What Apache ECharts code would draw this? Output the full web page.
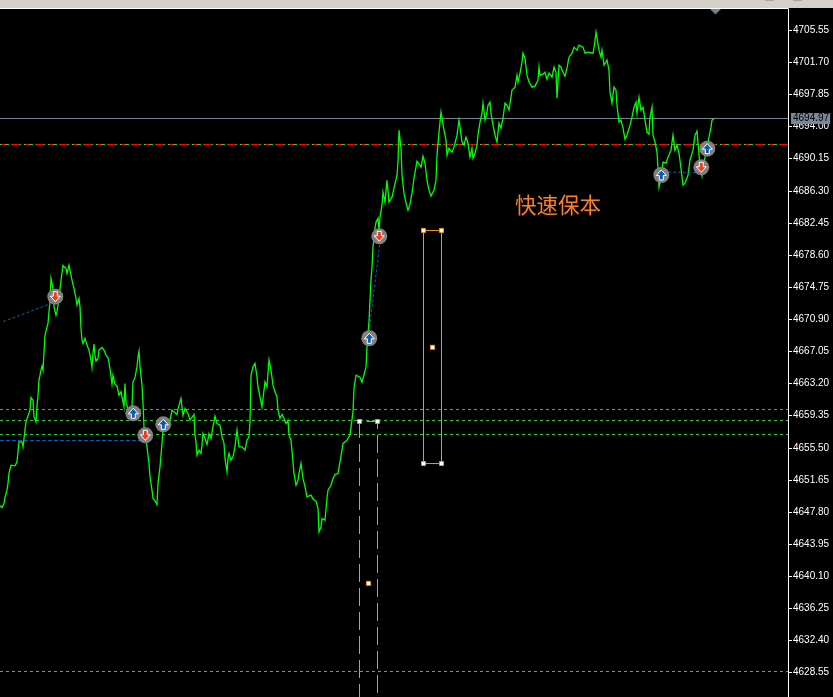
<!DOCTYPE html>
<html>
<head>
<meta charset="utf-8">
<style>html,body{margin:0;padding:0;background:#000;overflow:hidden}#c{width:833px;height:697px}</style>
<script src="https://cdn.jsdelivr.net/npm/echarts@6/dist/echarts.min.js"></script>
</head>
<body>
<div id="c"></div>
<script>
const barIndex = [
0,2,4,5,7,8,9,11,13,15,17,18,19,22,23,25,26,28,30,31,33,34,36,37,38,39,41,42,43,45,47,48,50,51,53,54,56,57,59,61,63,66,67,69,72,74,76,77,79,80,81,82,83,85,87,89,91,92,93,94,95,96,98,99,102,104,106,108,110,112,113,115,117,119,121,123,124,125,126,128,131,132,133,135,137,138,139,140,142,143,144,145,147,149,150,152,153,155,157,158,160,162,163,
167,170,172,174,177,178,181,182,183,185,187,188,190,192,194,195,196,197,199,201,202,203,205,207,209,211,213,215,217,220,222,224,225,227,228,229,231,233,235,237,239,242,245,247,249,250,251,253,255,257,258,260,262,263,265,267,269,271,273,275,277,278,280,282,284,286,288,289,291,293,294,296,298,299,301,302,303,305,307,309,311,313,316,318,319,321,322,325,327,328,331,333,335,338,340,342,343,347,348,350,352,353,354,356,358,
360,362,364,366,367,369,370,371,372,373,375,376,378,379,380,382,383,385,387,389,392,394,397,398,399,401,402,404,406,408,410,412,414,417,419,421,423,425,427,429,431,434,436,437,439,441,442,444,446,447,449,452,454,457,459,460,462,464,466,468,470,
472,473,475,477,478,480,482,483,485,487,488,490,491,493,495,497,499,501,503,505,507,509,511,512,515,517,518,520,522,523,525,527,529,532,535,538,539,540,543,545,547,549,552,554,556,557,559,561,563,565,567,569,572,574,577,579,583,585,588,593,594,596,597,599,601,602,604,607,609,
610,612,614,616,617,619,621,623,625,627,630,632,634,636,637,639,641,643,645,647,649,650,652,653,655,657,658,659,661,663,666,668,671,673,675,677,679,681,683,685,688,690,693,695,697,698,700,702,705,708,711,712,714
];
const closePrice = [
4648.59,4648.35,4648.83,4649.55,4650.43,4651.23,4652.43,4653.42,4653.63,4653.34,4653.82,4655.02,4656.22,4656.22,4655.62,4657.62,4658.62,4658.82,4660.02,4661.53,4661.21,4659.21,4658.62,4660.41,4661.81,4663.61,4664.81,4665.29,4664.81,4669.00,4668.88,4670.41,4673.20,4675.80,4674.60,4672.40,4671.40,4671.80,4673.40,4675.60,4677.36,4676.99,4676.40,4677.39,4675.60,4674.60,4673.40,4672.60,4673.40,4672.40,4669.80,4668.41,4668.01,4668.61,4667.81,4667.21,4666.01,4665.13,4666.81,4667.93,4666.61,4665.89,4666.21,4667.21,4667.53,4667.21,4666.61,4666.33,4665.01,4663.13,4664.21,4663.13,4662.89,4661.81,4662.21,4661.01,4660.41,4663.21,4660.81,4660.21,4659.41,4660.41,4663.41,4663.94,4665.21,4666.41,4667.09,4665.21,4663.01,4660.81,4658.01,4657.21,4655.62,4653.63,4652.03,4650.43,4649.43,4649.15,4648.71,4651.23,4653.22,4656.03,4657.62,
4658.42,4658.82,4660.02,4659.90,4659.50,4660.21,4661.41,4661.61,4659.41,4660.21,4660.29,4659.61,4658.82,4658.82,4659.50,4657.02,4656.22,4654.62,4655.22,4654.83,4655.82,4657.21,4656.61,4655.90,4657.21,4656.61,4658.01,4659.29,4658.42,4658.22,4656.82,4656.03,4654.23,4652.63,4654.23,4654.83,4654.03,4654.43,4655.62,4657.62,4655.62,4655.62,4655.22,4656.42,4656.82,4658.62,4664.21,4665.21,4665.61,4664.01,4662.81,4661.61,4660.41,4661.41,4663.41,4662.81,4666.01,4664.81,4663.01,4662.21,4661.61,4660.02,4659.02,4659.50,4659.02,4658.42,4658.82,4657.02,4656.42,4653.82,4652.43,4651.02,4651.62,4652.43,4653.63,4653.82,4651.83,4650.83,4649.63,4649.63,4649.83,4649.35,4649.11,4648.24,4645.43,4646.03,4647.03,4646.83,4649.43,4650.43,4651.02,4651.83,4652.31,4652.43,4653.82,4655.22,4656.03,4656.42,4656.22,4657.02,4657.21,4659.81,4662.62,4664.21,4664.41,
4663.97,4663.37,4663.37,4665.17,4667.57,4670.56,4673.20,4675.60,4677.15,4679.55,4681.82,4682.54,4683.02,4681.58,4683.14,4684.58,4686.14,4684.94,4687.57,4684.94,4685.54,4686.62,4688.17,4689.73,4693.57,4691.41,4688.17,4686.02,4684.82,4683.98,4684.70,4686.02,4687.81,4689.85,4689.85,4689.13,4690.45,4689.61,4687.57,4686.38,4685.66,4686.38,4687.57,4690.57,4693.33,4695.72,4695.01,4693.57,4692.37,4690.57,4691.41,4690.93,4691.53,4692.97,4694.77,4693.93,4692.13,4691.77,4692.73,4692.01,4690.33,
4691.41,4690.21,4690.81,4691.77,4692.97,4694.53,4695.60,4696.80,4694.77,4695.72,4696.56,4696.93,4695.60,4694.17,4692.97,4692.13,4694.41,4693.81,4695.01,4696.80,4696.56,4695.97,4697.52,4698.37,4698.73,4700.16,4699.33,4700.40,4701.72,4702.80,4702.20,4700.16,4699.33,4698.73,4698.85,4699.56,4701.12,4700.16,4700.28,4700.52,4699.68,4700.40,4699.92,4701.12,4700.52,4697.41,4701.36,4701.12,4700.52,4700.04,4701.00,4702.32,4702.80,4703.52,4703.16,4703.76,4703.52,4702.80,4702.92,4702.80,4703.40,4705.31,4704.60,4703.16,4702.32,4703.16,4701.36,4701.96,4700.76,
4698.13,4696.80,4698.73,4698.37,4696.56,4694.53,4694.77,4693.81,4692.49,4692.97,4694.17,4695.13,4696.33,4696.93,4695.60,4697.52,4695.97,4696.33,4694.77,4693.33,4693.09,4695.13,4696.33,4692.97,4692.13,4690.93,4689.01,4686.74,4687.82,4689.73,4689.61,4690.33,4691.17,4692.97,4691.17,4691.77,4690.81,4689.01,4686.98,4687.22,4688.17,4689.97,4691.17,4692.97,4693.45,4692.01,4689.37,4688.05,4690.33,4692.13,4693.93,4694.77,4694.97
];
const tickLabels = ["4705.55","4701.70","4697.85","4694.00","4690.15","4686.30","4682.45","4678.60","4674.75","4670.90","4667.05","4663.20","4659.35","4655.50","4651.65","4647.80","4643.95","4640.10","4636.25","4632.40","4628.55"];
const currentPrice = 4694.97;
const greenLevels = [4660.09, 4658.78, 4657.10, 4628.70];
const redLevel = 4691.85;
const blueLevel = 4656.38;
const blueLevelEndBar = 143;
const lastBar = 788;
const trendA = [[3, 4670.62], [53, 4672.89]];
const trendB = [[369, 4669.38], [380, 4680.17]];
const trendC = [[663, 4688.56], [697, 4688.50]];
const buyBars = [133.3, 163.3, 369.3, 661.3, 707.3];
const buyPrices = [4659.64, 4658.32, 4668.63, 4688.20, 4691.35];
const sellBars = [55.3, 145.3, 379.3, 701.3];
const sellPrices = [4673.61, 4657.00, 4680.85, 4689.12];
const rectOneBars = [423.5, 441.5];
const rectOnePrices = [4681.55, 4653.62];
const rectOneMid = [432.5, 4667.55];
const rectTwoBars = [359.5, 377.5];
const rectTwoTop = 4658.66;
const rectTwoFoot = 4625.04;
const rectTwoMid = [368.5, 4639.26];
const note = "快速保本";

const LIME = '#00FF00', GREEN = '#32CD32', RED = '#FF0000', ORANGE = '#F5921E', BLUE = '#0A5CB0', SLATE = '#778899';
const AXIS_FONT = '"Liberation Sans",sans-serif';
const upArrow = 'path://M5 0L10 5.5L7 5.5L7 10L3 10L3 5.5L0 5.5Z';
const downArrow = 'path://M3 0L7 0L7 4.5L10 4.5L5 10L0 4.5L3 4.5Z';
const line = (name, data, color, type, extra) => Object.assign({
  name, type: 'line', data, symbol: 'none', silent: true, animation: false,
  lineStyle: { color, width: 1, type: type || 'solid', dashOffset: 0 }, z: 3
}, extra || {});
const level = (p, color, dash, z, end) => line('level', [[0, p], [end || lastBar, p]], color, dash, { z });
const dots = (name, data, symbol, size, color, border, bw, z) => ({
  name, type: 'scatter', data, symbol, symbolSize: size, silent: true, animation: false, z,
  itemStyle: { color, borderColor: border, borderWidth: bw, opacity: 1 }
});

const priceData = barIndex.map((b, i) => [b, closePrice[i]]);
const buys = buyBars.map((b, i) => [b, buyPrices[i]]);
const sells = sellBars.map((b, i) => [b, sellPrices[i]]);
const r1 = rectOneBars, r1p = rectOnePrices, r2 = rectTwoBars;

const redSeries = level(redLevel, RED, [9, 6, 3, 6], 4);
redSeries.lineStyle.dashOffset = 13;

const chart = echarts.init(document.getElementById('c'), null, { renderer: 'canvas' });
chart.setOption({
  backgroundColor: '#000',
  animation: false,
  grid: { left: 0, top: 9, width: lastBar, height: 688, containLabel: false },
  xAxis: {
    type: 'value', min: 0, max: lastBar, position: 'top', offset: 1,
    axisLine: { show: true, onZero: false, lineStyle: { color: '#fff', width: 1 } },
    axisTick: { show: false }, axisLabel: { show: false }, splitLine: { show: false }
  },
  yAxis: {
    type: 'value', min: 4625.64, max: 4708.09, position: 'right',
    axisLine: { show: true, onZero: false, lineStyle: { color: '#fff', width: 1 } },
    axisTick: { show: true, length: 4, lineStyle: { color: '#fff' }, customValues: tickLabels.map(Number) },
    axisLabel: {
      show: true, color: '#fff', margin: 5, fontSize: 10, fontFamily: AXIS_FONT,
      customValues: tickLabels.map(Number), formatter: v => v.toFixed(2), hideOverlap: false
    },
    splitLine: { show: false }
  },
  graphic: [
    { type: 'rect', shape: { x: 0, y: 0, width: 833, height: 8 }, style: { fill: '#D4D0C8' }, z: 10, silent: true },
    { type: 'rect', shape: { x: 765, y: 0, width: 9, height: 1 }, style: { fill: '#ACA899' }, z: 11, silent: true },
    { type: 'rect', shape: { x: 793, y: 0, width: 9, height: 1 }, style: { fill: '#ACA899' }, z: 11, silent: true },
    { type: 'polygon', shape: { points: [[710, 9], [721, 9], [715.5, 14.5]] }, style: { fill: '#708090' }, z: 11, silent: true },
    { type: 'text', left: 515, top: 194, z: 11, silent: true,
      style: { text: note, fill: '#FF7F27', font: '21.5px "Noto Sans CJK SC"' } }
  ],
  series: [
    ...greenLevels.map(p => level(p, GREEN, [3, 3], 2)),
    level(redLevel, GREEN, [9, 3], 2),
    redSeries,
    level(blueLevel, BLUE, [4, 2], 2, blueLevelEndBar),
    line('current', [[0, currentPrice], [lastBar, currentPrice]], SLATE, 'solid', {
      z: 2,
      endLabel: { show: true, formatter: () => currentPrice.toFixed(2), color: '#000', backgroundColor: SLATE,
        fontSize: 10, lineHeight: 11, fontFamily: AXIS_FONT, padding: [0, 1, 0, 2], distance: 3 }
    }),
    line('close', priceData, LIME, 'solid', { z: 5, lineStyle: { color: LIME, width: 1.3, join: 'miter' } }),
    line('trendA', trendA, BLUE, [3, 2], { z: 6 }),
    line('trendB', trendB, BLUE, [3, 2], { z: 6 }),
    line('trendC', trendC, BLUE, [3, 2], { z: 6 }),
    line('rectOne', [[r1[0], r1p[0]], [r1[1], r1p[0]], [r1[1], r1p[1]], [r1[0], r1p[1]], [r1[0], r1p[0]]], ORANGE, 'solid', { z: 7 }),
    line('rectTwo', [[r2[0], rectTwoFoot], [r2[0], rectTwoTop], [r2[1], rectTwoTop], [r2[1], rectTwoFoot]], ORANGE, [18, 6], { z: 7 }),
    dots('handles', [[r1[0], r1p[0]], [r1[1], r1p[0]], [r1[0], r1p[1]], [r1[1], r1p[1]], rectOneMid, [r2[0], rectTwoTop], [r2[1], rectTwoTop], rectTwoMid],
      'rect', 4, '#fff', ORANGE, 1, 8),
    dots('buyDisc', buys, 'circle', 16, '#808080', null, 0, 9),
    dots('sellDisc', sells, 'circle', 16, '#808080', null, 0, 9),
    dots('buyArrow', buys, upArrow, 10, BLUE, '#fff', 1, 10),
    dots('sellArrow', sells, downArrow, 10, '#E8401C', '#fff', 1, 10)
  ]
});
</script>
</body>
</html>
